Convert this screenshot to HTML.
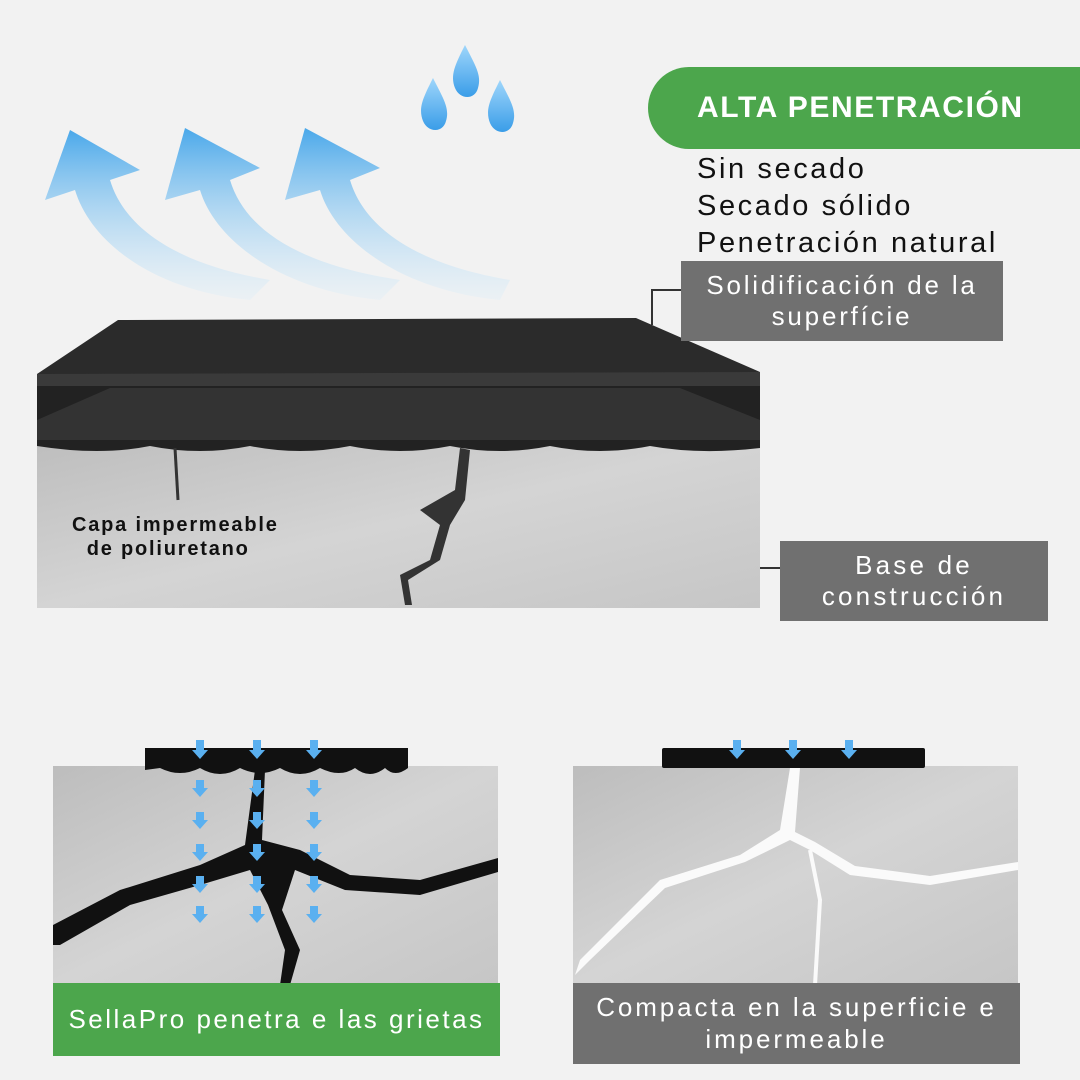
<!DOCTYPE html>
<html><head><meta charset="utf-8"><style>
html,body{margin:0;padding:0}
body{width:1080px;height:1080px;background:#f2f2f2;position:relative;overflow:hidden;font-family:"Liberation Sans",sans-serif}
.abs{position:absolute}
.box{position:absolute;color:#fff;text-align:center;display:flex;align-items:center;justify-content:center;line-height:1.2}
</style></head><body>
<svg class="abs" style="left:0;top:0" width="1080" height="1080">
<defs>
<linearGradient id="bl" x1="0" y1="1" x2="0" y2="0"><stop offset="0" stop-color="#dbeefa" stop-opacity="0.3"/><stop offset="1" stop-color="#4aa8ea"/></linearGradient>
<linearGradient id="cc" x1="0" y1="0" x2="1" y2="1"><stop offset="0" stop-color="#bdbdbd"/><stop offset="0.5" stop-color="#d4d4d4"/><stop offset="1" stop-color="#c6c6c6"/></linearGradient>
<linearGradient id="dr" x1="0" y1="0" x2="0" y2="1"><stop offset="0" stop-color="#9fd6fb"/><stop offset="1" stop-color="#3a9de8"/></linearGradient>
</defs>
<g fill="url(#bl)">
<path d="M250 300 C150 290 90 240 75 190 L45 200 L70 130 L140 170 L110 180 C125 230 180 265 270 280 Z"/>
<path d="M380 300 C280 290 215 240 200 190 L165 200 L185 128 L260 168 L230 180 C245 230 300 265 400 280 Z"/>
<path d="M500 300 C400 290 335 240 320 190 L285 200 L305 128 L380 168 L350 180 C365 230 420 265 510 280 Z"/>
</g>
<g fill="url(#dr)">
<path d="M465 45 C455 65 450 75 455 88 C460 100 475 100 478 88 C482 75 475 65 465 45Z"/>
<path d="M433 78 C423 98 418 108 423 121 C428 133 443 133 446 121 C450 108 443 98 433 78Z"/>
<path d="M500 80 C490 100 485 110 490 123 C495 135 510 135 513 123 C517 110 510 100 500 80Z"/>
</g>
<rect x="37" y="436" width="723" height="172" fill="url(#cc)"/>
<path d="M37 386 L760 386 L760 440 L37 440Z" fill="#222"/>
<path d="M37 440 L760 440 L760 448 Q700 455 650 446 Q600 456 550 446 Q500 456 450 446 Q400 456 350 446 Q300 456 250 446 Q200 456 150 446 Q100 456 37 446Z" fill="#222"/>
<path d="M110 388 L680 388 L760 420 L760 440 L37 440 L37 420Z" fill="#333"/>
<path d="M118 320 L636 318 L760 372 L760 386 L37 386 L37 374Z" fill="#2b2b2b"/>
<path d="M37 374 L760 372 L760 386 L37 386Z" fill="#3a3a3a"/>
<path d="M460 448 L455 490 L420 510 L440 525 L430 560 L400 575 L405 605 L412 605 L408 580 L440 560 L450 525 L465 500 L470 450Z" fill="#333"/>
<path d="M175 448 L178 500" stroke="#333" stroke-width="3"/>
<path d="M760 568 L780 568" stroke="#333" stroke-width="2"/>
<path d="M681 290 L652 290 L652 325" stroke="#333" stroke-width="2" fill="none"/>
<rect x="53" y="766" width="445" height="219" fill="url(#cc)"/>
<path d="M145 748 L408 748 L408 768 Q395 778 385 768 Q370 780 355 768 Q340 778 320 768 Q300 780 280 768 Q260 778 240 768 Q220 780 200 768 Q180 778 160 768 L145 770Z" fill="#111"/>
<path d="M53 925 L120 890 L200 865 L245 845 L255 770 L265 770 L262 840 L300 850 L350 875 L420 880 L498 858 L498 872 L420 895 L345 890 L295 870 L282 910 L300 950 L290 985 L280 985 L285 950 L268 905 L250 870 L200 885 L130 905 L60 945 L53 945Z" fill="#111"/>
<g fill="#5ab0f0">
<path d="M196 740h8v10h4l-8 9-8-9h4z"/><path d="M253 740h8v10h4l-8 9-8-9h4z"/><path d="M310 740h8v10h4l-8 9-8-9h4z"/>
<path d="M196 780h8v8h4l-8 9-8-9h4z"/><path d="M196 812h8v8h4l-8 9-8-9h4z"/><path d="M196 844h8v8h4l-8 9-8-9h4z"/><path d="M196 876h8v8h4l-8 9-8-9h4z"/><path d="M196 906h8v8h4l-8 9-8-9h4z"/>
<path d="M253 780h8v8h4l-8 9-8-9h4z"/><path d="M253 812h8v8h4l-8 9-8-9h4z"/><path d="M253 844h8v8h4l-8 9-8-9h4z"/><path d="M253 876h8v8h4l-8 9-8-9h4z"/><path d="M253 906h8v8h4l-8 9-8-9h4z"/>
<path d="M310 780h8v8h4l-8 9-8-9h4z"/><path d="M310 812h8v8h4l-8 9-8-9h4z"/><path d="M310 844h8v8h4l-8 9-8-9h4z"/><path d="M310 876h8v8h4l-8 9-8-9h4z"/><path d="M310 906h8v8h4l-8 9-8-9h4z"/>
</g>
<rect x="573" y="766" width="445" height="219" fill="url(#cc)"/>
<rect x="662" y="748" width="263" height="20" fill="#111" rx="2"/>
<g fill="#5ab0f0">
<path d="M733 740h8v10h4l-8 9-8-9h4z"/><path d="M789 740h8v10h4l-8 9-8-9h4z"/><path d="M845 740h8v10h4l-8 9-8-9h4z"/>
</g>
<path d="M790 768 L780 830 L740 855 L660 880 L580 960 L575 975 L590 960 L665 888 L745 862 L790 840 L810 850 L850 875 L930 885 L1018 870 L1018 862 L930 876 L855 866 L815 842 L795 832 L800 768Z" fill="#fafafa"/>
<path d="M810 850 L820 900 L815 985" stroke="#fafafa" stroke-width="4" fill="none"/>
</svg>
<div class="box" style="left:648px;top:67px;width:432px;height:82px;background:#4ca64c;border-radius:41px 0 0 41px;font-weight:bold;font-size:30px;letter-spacing:1.6px;justify-content:flex-start;padding-left:49px;box-sizing:border-box">ALTA PENETRACIÓN</div>
<div class="abs" style="left:697px;top:151px;font-size:29px;line-height:37px;color:#111;letter-spacing:2.6px">Sin secado<br>Secado sólido<br>Penetración natural</div>
<div class="box" style="left:681px;top:261px;width:322px;height:80px;background:#707070;font-size:26px;letter-spacing:2.8px">Solidificación de la<br>superfície</div>
<div class="box" style="left:780px;top:541px;width:268px;height:80px;background:#707070;font-size:26px;letter-spacing:3.2px">Base de<br>construcción</div>
<div class="abs" style="left:72px;top:513px;font-size:20px;font-weight:bold;line-height:24px;color:#111;letter-spacing:1.8px">Capa impermeable<br>&nbsp;&nbsp;de poliuretano</div>
<div class="box" style="left:53px;top:983px;width:447px;height:73px;background:#4ca64c;font-size:26px;letter-spacing:2.5px">SellaPro penetra e las grietas</div>
<div class="box" style="left:573px;top:983px;width:447px;height:81px;background:#707070;font-size:26px;letter-spacing:2.9px">Compacta en la superficie e<br>impermeable</div>
</body></html>
